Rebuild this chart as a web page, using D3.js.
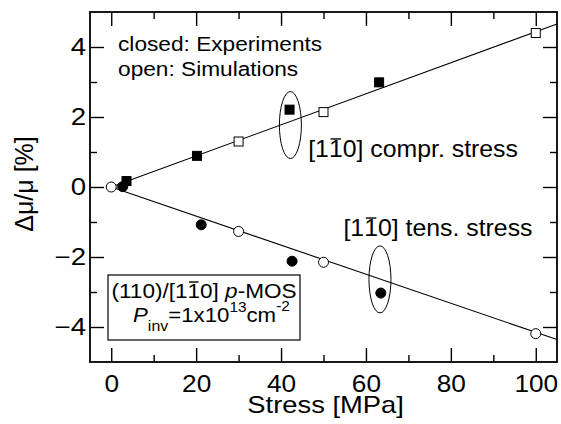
<!DOCTYPE html>
<html>
<head>
<meta charset="utf-8">
<script src="https://cdn.jsdelivr.net/npm/d3@7"></script>
<style>
  html, body { margin: 0; padding: 0; background: #fff; }
  svg { display: block; }
  text { font-family: "Liberation Sans", Arial, Helvetica, sans-serif; fill: #000; }
</style>
</head>
<body>
<svg id="chart" width="561" height="424"></svg>
<script>
// Mobility change vs. uniaxial stress, (110)/[1-10] p-MOSFET
const xMajorTicks = [0, 20, 40, 60, 80, 100];
const xMinorTicks = [10, 30, 50, 70, 90];
const yMajorTicks = [-4, -2, 0, 2, 4];
const yMinorTicks = [-3, -1, 1, 3];

// compressive stress along [1-10]
const comprSim = [[30, 1.30], [50, 2.14], [100, 4.40]];
const comprExp = [[3.6, 0.17], [20.2, 0.89], [42.0, 2.21], [63.1, 2.99]];
const comprFit = [[0, 0], [105, 4.66]];

// tensile stress along [1-10]
const tensSim = [[0, 0], [30, -1.27], [50, -2.15], [100, -4.19]];
const tensExp = [[2.7, 0.01], [21.2, -1.08], [42.6, -2.12], [63.5, -3.03]];
const tensFit = [[0, 0], [105, -4.36]];

const svg = d3.select("#chart");
const margin = { left: 90, top: 12, right: 4, bottom: 62 };
const W = 561 - margin.left - margin.right;
const H = 424 - margin.top - margin.bottom;

const x = d3.scaleLinear().domain([-5, 105]).range([0, W]);
const y = d3.scaleLinear().domain([-5, 5]).range([H, 0]);

const g = svg.append("g").attr("transform", `translate(${margin.left},${margin.top})`);

// ticks (inward, on all four sides)
function tickAxis(axisFn, values, size, transform, withLabels, padding, sx) {
  const a = axisFn.tickValues(values).tickSizeInner(-size).tickSizeOuter(0)
    .tickPadding(padding || 0);
  if (!withLabels) a.tickFormat("");
  const ga = g.append("g").attr("transform", transform).call(a);
  ga.select(".domain").remove();
  ga.selectAll(".tick line").attr("stroke", "#000").attr("stroke-width", 1.4);
  ga.selectAll(".tick text").attr("font-size", 23).attr("fill", "#000")
    .attr("font-family", '"Liberation Sans", Arial, sans-serif')
    .each(function () {
      const t = d3.select(this);
      const tx = +t.attr("x") || 0;
      t.attr("x", tx / sx).attr("transform", `scale(${sx},1)`);
    });
  return ga;
}
tickAxis(d3.axisBottom(x), xMajorTicks, 14, `translate(0,${H})`, true, 13.5, 1.14);
tickAxis(d3.axisBottom(x), xMinorTicks, 7, `translate(0,${H})`, false);
tickAxis(d3.axisTop(x), xMajorTicks, 14, "translate(0,0)", false);
tickAxis(d3.axisTop(x), xMinorTicks, 7, "translate(0,0)", false);
tickAxis(d3.axisLeft(y), yMajorTicks, 14, "translate(0,0)", true, 4, 1.2);
tickAxis(d3.axisLeft(y), yMinorTicks, 7, "translate(0,0)", false);
tickAxis(d3.axisRight(y), yMajorTicks, 14, `translate(${W},0)`, false);
tickAxis(d3.axisRight(y), yMinorTicks, 7, `translate(${W},0)`, false);

// frame
g.append("rect").attr("x", 0).attr("y", 0).attr("width", W).attr("height", H)
  .attr("fill", "none").attr("stroke", "#000").attr("stroke-width", 1.8);

// fit lines
const line = d3.line().x(d => x(d[0])).y(d => y(d[1]));
[comprFit, tensFit].forEach(d => {
  g.append("path").attr("d", line(d)).attr("fill", "none")
    .attr("stroke", "#000").attr("stroke-width", 1.1);
});

// markers
const sq = 9, r = 5;
function squares(data, fill) {
  g.selectAll(null).data(data).join("rect")
    .attr("x", d => x(d[0]) - sq / 2).attr("y", d => y(d[1]) - sq / 2)
    .attr("width", sq).attr("height", sq)
    .attr("fill", fill).attr("stroke", "#000").attr("stroke-width", 1);
}
function circles(data, fill) {
  g.selectAll(null).data(data).join("circle")
    .attr("cx", d => x(d[0])).attr("cy", d => y(d[1])).attr("r", r)
    .attr("fill", fill).attr("stroke", "#000").attr("stroke-width", 1);
}
squares(comprSim, "#fff");
circles(tensSim, "#fff");
squares(comprExp, "#000");
circles(tensExp, "#000");

// ellipses grouping the labelled series
[[42.2, 1.77], [63.3, -2.64]].forEach(c => {
  g.append("ellipse").attr("cx", x(c[0])).attr("cy", y(c[1]))
    .attr("rx", 11).attr("ry", 33.5)
    .attr("fill", "none").attr("stroke", "#000").attr("stroke-width", 1);
});

// text helper: parts = [{t, bar, sub, sup, italic, size}]
function label(parent, px, py, parts, opt) {
  const fs = opt.size;
  const grp = parent.append("g")
    .attr("transform", `translate(${px},${py}) scale(${opt.sx || 1},1)`);
  const t = grp.append("text").attr("font-size", fs)
    .attr("text-anchor", opt.anchor || "start");
  let idx = 0;
  const bars = [];
  parts.forEach(p => {
    const ts = t.append("tspan").text(p.t);
    if (p.italic) ts.attr("font-style", "italic");
    if (p.sub) ts.attr("font-size", p.size || fs * 0.66).attr("dy", fs * 0.42);
    if (p.sup) ts.attr("font-size", p.size || fs * 0.66).attr("dy", -fs * 0.5);
    if (p.back) ts.attr("dy", p.back);
    if (p.bar) bars.push(idx);
    idx += p.t.length;
  });
  bars.forEach(i => {
    const e = t.node().getExtentOfChar(i);
    grp.append("line")
      .attr("x1", e.x + e.width * 0.12).attr("x2", e.x + e.width * 0.88)
      .attr("y1", -fs * 0.78).attr("y2", -fs * 0.78)
      .attr("stroke", "#000").attr("stroke-width", 1.4);
  });
  return grp;
}

// axis titles
label(svg, margin.left + x(50.5), 413, [{ t: "Stress [MPa]" }], { size: 23, sx: 1.19, anchor: "middle" });
svg.append("text").attr("transform", "rotate(-90)")
  .attr("x", -184).attr("y", 33).attr("text-anchor", "middle")
  .attr("font-size", 25).text("\u0394\u03bc/\u03bc [%]");

// annotations
label(g, x(1.6), y(3.90), [{ t: "closed: Experiments" }], { size: 21, sx: 1.08 });
label(g, x(1.6), y(3.16), [{ t: "open: Simulations" }], { size: 21, sx: 1.08 });
label(g, x(46.4), y(0.86), [{ t: "[1" }, { t: "1", bar: true }, { t: "0] compr. stress" }], { size: 23, sx: 1.08 });
label(g, x(54.7), y(-1.40), [{ t: "[1" }, { t: "1", bar: true }, { t: "0] tens. stress" }], { size: 23, sx: 1.08 });

// inset box
g.append("rect").attr("x", 18).attr("y", 263).attr("width", 192).attr("height", 65)
  .attr("fill", "#fff").attr("stroke", "#000").attr("stroke-width", 1.2);
label(g, 21.5, 286, [{ t: "(110)/[1" }, { t: "1", bar: true }, { t: "0] " }, { t: "p", italic: true }, { t: "-MOS" }],
  { size: 20.5, sx: 1.1 });
label(g, 43, 310, [
  { t: "P", italic: true },
  { t: "inv", sub: true, size: 15 },
  { t: "=1x10", back: -8.6 },
  { t: "13", sup: true, size: 14.5 },
  { t: "cm", back: 10.2 },
  { t: "-2", sup: true, size: 14.5 }
], { size: 21, sx: 1.06 });
</script>
</body>
</html>
